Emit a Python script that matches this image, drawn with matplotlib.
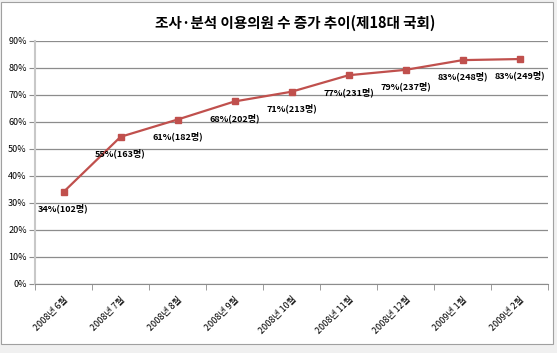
import matplotlib.pyplot as plt
from matplotlib.patches import Rectangle
import numpy as np

plt.rcParams['font.family'] = ['Noto Sans CJK KR', 'DejaVu Sans']

months = ['2008년 6월', '2008년 7월', '2008년 8월', '2008년 9월', '2008년 10월',
          '2008년 11월', '2008년 12월', '2009년 1월', '2009년 2월']
pct = [34.1, 54.5, 60.9, 67.6, 71.2, 77.3, 79.3, 82.9, 83.3]
labels = ['34%(102명)', '55%(163명)', '61%(182명)', '68%(202명)', '71%(213명)',
          '77%(231명)', '79%(237명)', '83%(248명)', '83%(249명)']

fig = plt.figure(figsize=(5.57, 3.53), dpi=100)
fig.patch.set_facecolor('#f0f0f0')
# white chart area with gray border
fig.add_artist(Rectangle((0.002, 0.025), 0.99, 0.97, transform=fig.transFigure,
                         facecolor='white', edgecolor='#a0a0a0', lw=0.8, zorder=-5))

ax = fig.add_axes([0.063, 0.1955, 0.921, 0.6885])
x = np.arange(len(months))
ax.plot(x, pct, color='#c0504d', lw=1.6, marker='s', ms=5, zorder=3)
for xi, yi, t in zip(x, pct, labels):
    ax.annotate(t, (xi, yi), xytext=(0, -12), textcoords='offset points',
                ha='center', va='center', fontsize=6.5, fontweight='bold')

ax.set_xlim(-0.5, len(months) - 0.5)
ax.set_ylim(0, 90)
ax.set_yticks(np.arange(0, 91, 10))
ax.set_yticklabels([f'{v}%' for v in range(0, 91, 10)], fontsize=6.5)
ax.yaxis.grid(True, color='#8c8c8c', lw=0.9)
ax.set_axisbelow(True)

ax.set_xticks(x)
ax.set_xticklabels(months, rotation=45, ha='right', rotation_mode='anchor', fontsize=6.5)
ax.tick_params(axis='x', length=0, pad=8)
ax.set_xticks(np.arange(-0.5, len(months)), minor=True)
ax.tick_params(axis='x', which='minor', length=4, color='#8c8c8c')
ax.tick_params(axis='y', length=4, color='#8c8c8c', pad=2)

for s in ['top', 'right']:
    ax.spines[s].set_visible(False)
ax.spines['left'].set_color('#c8c8c8')
ax.spines['left'].set_linewidth(1.5)
ax.spines['bottom'].set_color('#8c8c8c')

fig.text(0.53, 0.935, '조사·분석 이용의원 수 증가 추이(제18대 국회)', ha='center',
         va='center', fontsize=10.5, fontweight='bold')

fig.savefig('out.png', dpi=100)
